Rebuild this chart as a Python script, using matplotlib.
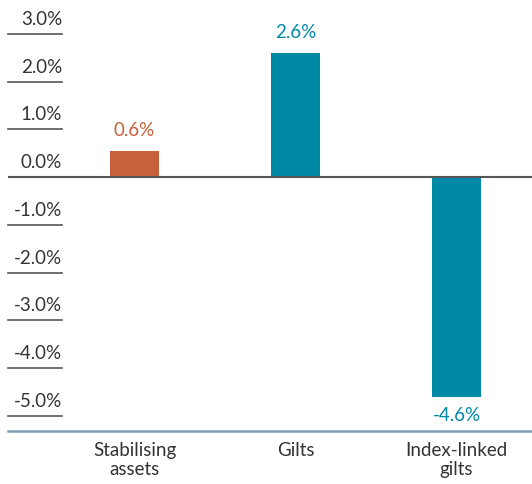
import numpy as np
import matplotlib.pyplot as plt
import matplotlib.transforms as mtransforms

# Data
categories = ["Stabilising\nassets", "Gilts", "Index-linked\ngilts"]
values = [0.55, 2.6, -4.6]
value_labels = ["0.6%", "2.6%", "-4.6%"]
bar_colors = ["#C8603A", "#0089A7", "#0089A7"]
yticks = [3, 2, 1, 0, -1, -2, -3, -4, -5]

plt.rcParams["font.family"] = ["Lato", "DejaVu Sans"]

fig = plt.figure(figsize=(5.32, 4.85), dpi=100)
ax = fig.add_axes([8 / 532, 53 / 485, 524 / 532, 432 / 485])

x = np.arange(len(categories))
ax.bar(x, values, width=0.304, color=bar_colors, zorder=2)

ax.set_xlim(-0.786, 2.469)
ax.set_ylim(-5.32, 3.73)

for s in ax.spines.values():
    s.set_visible(False)
ax.set_xticks([])
ax.set_yticks([])

# zero line and bottom line
ax.axhline(0, color="#555555", lw=1.5, zorder=3)
ax.axhline(-5.32, color="#7F9FB5", lw=1.8, zorder=3, clip_on=False)

# y tick labels with underline
trans = mtransforms.blended_transform_factory(ax.transAxes, ax.transData)
for t in yticks:
    if t != 0:
        ax.plot([0, 54 / 524], [t, t], color="#555555", lw=1.2, transform=trans, clip_on=False)
    ax.annotate(f"{t:.1f}%", xy=(54 / 524, t), xycoords=trans, xytext=(0, 5),
                textcoords="offset points", ha="right", va="bottom",
                fontsize=13.5, color="#333333")

# value labels
for xi, v, lab, c in zip(x, values, value_labels, bar_colors):
    if v >= 0:
        ax.annotate(lab, (xi, v), xytext=(0, 9), textcoords="offset points",
                    ha="center", va="bottom", fontsize=13.5, color=c)
    else:
        ax.annotate(lab, (xi, v), xytext=(0, -7), textcoords="offset points",
                    ha="center", va="top", fontsize=13.5, color=c)

# category labels
for xi, cat in zip(x, categories):
    ax.annotate(cat, (xi, -5.32), xytext=(0, -7), textcoords="offset points",
                ha="center", va="top", fontsize=13.5, color="#333333",
                linespacing=1.15, annotation_clip=False)

fig.savefig("out.png", dpi=100)
